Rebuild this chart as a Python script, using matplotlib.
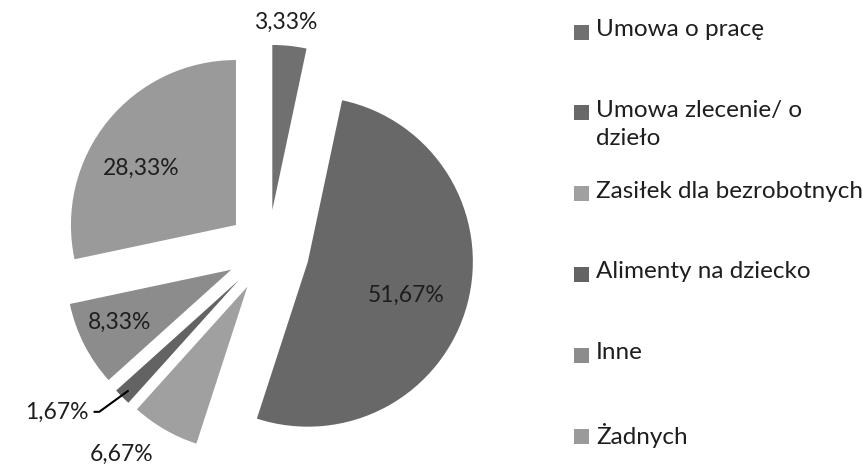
import numpy as np
import matplotlib
matplotlib.use("Agg")
import matplotlib.pyplot as plt
from matplotlib.patches import Rectangle

# data
categories = ["Umowa o pracę", "Umowa zlecenie/ o\ndzieło", "Zasiłek dla bezrobotnych",
              "Alimenty na dziecko", "Inne", "Żadnych"]
shares = [3.33, 51.67, 6.67, 1.67, 8.33, 28.33]
colors = ["#707070", "#686868", "#a0a0a0", "#636363", "#8c8c8c", "#9a9a9a"]

plt.rcParams['font.family'] = ['Lato', 'DejaVu Sans']
txt_color = "#1e1e1e"

W, H = 863, 466
R_PX = 165.0          # pie radius in pixels
CX, CY = 268, 251     # pie centre (pixels from top-left)

fig = plt.figure(figsize=(W / 100, H / 100), dpi=100)
ax = fig.add_axes([0, 0, 1, 1])

wedges, _ = ax.pie(shares, colors=colors, radius=1, center=(0, 0),
                   explode=[0.25] * len(shares), startangle=90,
                   counterclock=False, wedgeprops=dict(linewidth=0))

ax.set_xlim(-CX / R_PX, (W - CX) / R_PX)
ax.set_ylim(-(H - CY) / R_PX, CY / R_PX)
ax.set_aspect('equal')
ax.axis('off')

# label placement relative to each wedge: (distance from apex, angle nudge)
label_pos = [(1.14, 2), (0.63, -4), (1.27, -7), (1.41, -11), (0.75, -2), (0.67, 8)]

for w, v, (dist, dang) in zip(wedges, shares, label_pos):
    mid = np.deg2rad((w.theta1 + w.theta2) / 2 + dang)
    cx, cy = w.center
    x, y = cx + dist * np.cos(mid), cy + dist * np.sin(mid)
    s = f"{v:.2f}".replace('.', ',') + '%'
    if v < 2:
        # small slice: leader line to the wedge
        m = np.deg2rad((w.theta1 + w.theta2) / 2)
        tip = (cx + 0.95 * np.cos(m), cy + 0.95 * np.sin(m))
        ax.annotate(s, xy=tip, xytext=(x + 0.26, y - 0.01), ha='right', va='center',
                    fontsize=16.5, color=txt_color,
                    arrowprops=dict(arrowstyle='-', color='black', lw=1.5,
                                    shrinkA=2, shrinkB=0,
                                    connectionstyle='angle,angleA=0,angleB=36,rad=0'))
    else:
        ax.text(x, y, s, ha='center', va='center', fontsize=16.5, color=txt_color)

# legend, drawn by hand to keep the Excel-like spacing
leg_x, leg_y0, leg_dy = 574, 32, 80.8
for i, (lab, c) in enumerate(zip(categories, colors)):
    y = leg_y0 + i * leg_dy
    fig.add_artist(Rectangle((leg_x / W, 1 - (y + 7.5) / H), 15 / W, 15 / H,
                             transform=fig.transFigure, color=c, lw=0))
    fig.text((leg_x + 22) / W, 1 - (y - 13) / H, lab, ha='left', va='top',
             fontsize=17.5, color=txt_color, linespacing=1.4)

fig.savefig("out.png", dpi=100)
